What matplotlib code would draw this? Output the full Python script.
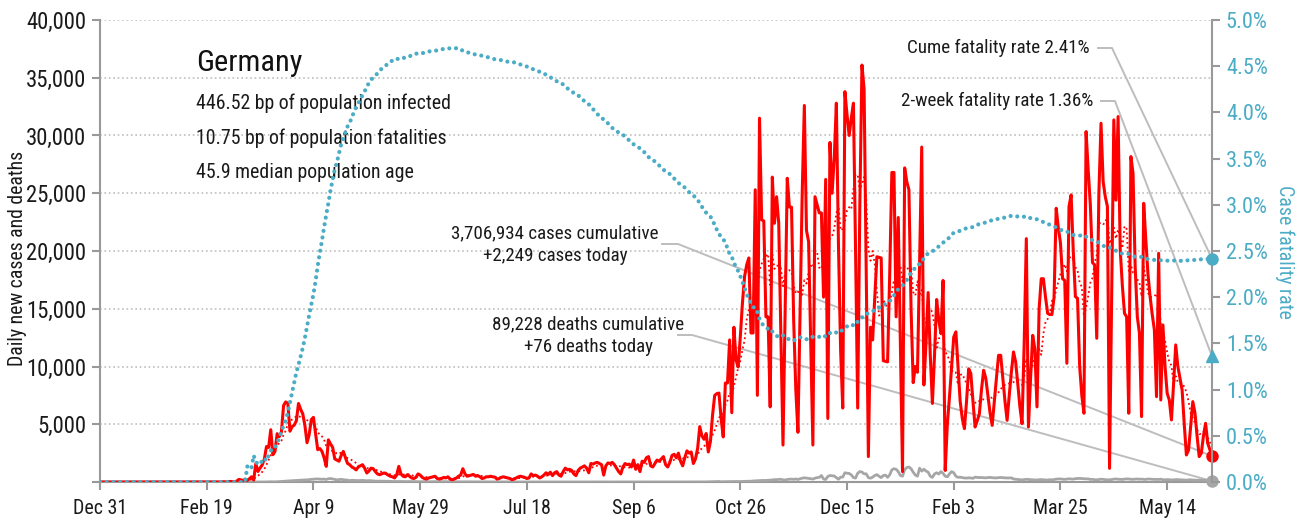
import numpy as np
import pandas as pd
import matplotlib
matplotlib.use('Agg')
import matplotlib.pyplot as plt
from matplotlib import font_manager
from matplotlib.ticker import FixedLocator, FixedFormatter

# pick a narrow face if one is installed, else Liberation Sans
installed = {f.name for f in font_manager.fontManager.ttflist}
FONT, FS = 'Liberation Sans', 1.0
for name, scale in [('Roboto Condensed', 1.12), ('Liberation Sans Narrow', 1.2)]:
    if name in installed:
        FONT, FS = name, scale
        break
plt.rcParams['font.family'] = [FONT, 'DejaVu Sans']

# daily new cases, Dec 31 2019 .. Jun 4 2021 (one block per month)
cases = [
    0,
    # Jan 2020
    0, 0, 0, 0, 0, 0, 0, 0, 0, 0, 0, 0, 0, 0, 0, 0, 0, 0, 0, 0,
    0, 0, 0, 0, 0, 0, 1, 3, 0, 0, 1,
    # Feb
    3, 0, 0, 2, 0, 2, 1, 1, 0, 3, 0, 2, 0, 0, 0, 0, 0, 0, 0, 0,
    0, 0, 0, 0, 2, 10, 19, 6, 31,
    # Mar
    51, 29, 37, 66, 220, 188, 129, 241, 136, 281, 451, 170, 1597, 910, 1210,
    1477, 1985, 3070, 2993, 4528, 2365, 2660, 4183, 3930, 4337, 6615, 6933,
    6824, 4400, 4790, 4923,
    # Apr
    5300, 6800, 6300, 5900, 4900, 3400, 4100, 5400, 5600, 4200, 2800, 2900,
    2650, 2100, 1350, 3650, 3300, 3000, 2000, 1900, 1800, 2300, 2650, 2100,
    1600, 1500, 1300, 1200, 1050, 1300,
    # May
    1400, 1500, 1200, 780, 950, 1200, 1150, 900, 700, 630, 700, 780, 720, 600,
    500, 450, 350, 600, 1350, 700, 500, 450, 630, 500, 350, 300, 400, 700, 600,
    400, 300,
    # Jun
    250, 350, 400, 450, 500, 300, 250, 300, 400, 350, 450, 250, 200, 250, 350,
    500, 600, 1150, 700, 500, 550, 600, 650, 500, 550, 450, 300, 350, 450, 450,
    # Jul
    500, 450, 420, 250, 300, 400, 450, 400, 350, 300, 200, 250, 350, 450, 500,
    450, 400, 300, 350, 700, 550, 600, 500, 350, 450, 600, 800, 650, 850, 550,
    800,
    # Aug
    900, 600, 500, 900, 1200, 1050, 1100, 1000, 700, 550, 1000, 1200, 1300,
    1400, 1200, 800, 1600, 1550, 1650, 1700, 1600, 1500, 600, 1400, 1650, 1600,
    1700, 1500, 1200, 900, 700,
    # Sep
    1300, 1600, 1500, 1550, 1300, 1900, 1100, 1500, 900, 1800, 1700, 2100,
    2200, 1400, 1300, 1600, 1900, 1800, 2000, 2200, 1500, 1300, 1700, 2300,
    2400, 2100, 2500, 1800, 1400, 2100,
    # Oct
    2700, 2500, 2600, 1600, 2000, 2900, 4800, 4000, 3700, 4200, 2600, 3500,
    5800, 7500, 7650, 7700, 5500, 3900, 8570, 8570, 12300, 6000, 13400, 10560,
    9960, 12560, 15500, 17800, 18800, 19400, 12900,
    # Nov
    12900, 25300, 7500, 31500, 22700, 22600, 14300, 14300, 6500, 26400, 22400,
    24700, 22400, 13000, 3200, 15000, 26300, 23800, 23800, 14000, 8000, 4300,
    14600, 25000, 32600, 21800, 20800, 12000, 3200, 24700,
    # Dec
    24000, 23300, 23300, 16000, 26200, 5500, 29400, 25000, 28000, 32800, 20400,
    11400, 6400, 33800, 31800, 30000, 31500, 32800, 20000, 6400, 24000, 36100,
    34000, 18000, 2200, 13400, 12300, 16000, 19500, 19450, 19400,
    # Jan 2021
    10500, 10450, 10400, 18000, 26800, 26800, 14300, 22900, 12000, 900, 27200,
    26000, 25300, 15000, 8600, 10000, 9500, 19000, 29000, 8400, 12000, 16400,
    11000, 6800, 11000, 15800, 14000, 12850, 17450, 1000, 5000,
    # Feb
    7360, 10000, 12560, 13000, 9960, 7000, 5500, 4620, 7000, 9800, 9400, 7000,
    4760, 5300, 5900, 8000, 9670, 9000, 7500, 6000, 4900, 7000, 9000, 10970,
    10970, 9000, 7000, 5340,
    # Mar
    7500, 9500, 11260, 10400, 8500, 6500, 5050, 12000, 21070, 4760, 9000,
    12700, 11500, 6500, 15000, 17600, 17600, 16000, 14600, 14500, 14500, 16000,
    23700, 22000, 20700, 17600, 17450, 10280, 23850, 24860, 20000,
    # Apr
    16050, 15900, 10000, 7500, 5950, 30340, 27000, 24000, 19000, 18800, 12440,
    25000, 31060, 26000, 24700, 23850, 1180, 16000, 31350, 24400, 31640, 20090,
    17000, 14600, 14300, 5950, 28180, 26730, 18650, 14320,
    # May
    12880, 5660, 24130, 20960, 18000, 16050, 14500, 13170, 7390, 19800, 7100,
    13600, 10000, 7680, 7100, 5370, 8500, 11870, 10000, 9000, 7970, 5000, 2340,
    2750, 4800, 6960, 6000, 4000, 2200, 2500, 4000,
    # Jun
    5080, 3350, 2800, 2249,
]

# daily new deaths, same days
deaths = [
    0,
    # Jan 2020
    0, 0, 0, 0, 0, 0, 0, 0, 0, 0, 0, 0, 0, 0, 0, 0, 0, 0, 0, 0,
    0, 0, 0, 0, 0, 0, 0, 0, 0, 0, 0,
    # Feb
    0, 0, 0, 0, 0, 0, 0, 0, 0, 0, 0, 0, 0, 0, 0, 0, 0, 0, 0, 0,
    0, 0, 0, 0, 0, 0, 0, 0, 0,
    # Mar
    0, 0, 0, 0, 0, 0, 0, 0, 2, 0, 1, 3, 2, 1, 2, 6, 7, 4, 16, 23, 17, 10, 29,
    34, 49, 61, 75, 91, 100, 112, 130,
    # Apr
    140, 150, 160, 170, 180, 185, 200, 230, 240, 260, 270, 250, 240, 250, 220,
    280, 300, 260, 230, 180, 210, 230, 200, 180, 160, 120, 150, 140, 130, 120,
    # May
    130, 140, 120, 110, 120, 110, 90, 80, 70, 80, 70, 70, 60, 70, 50, 45, 40,
    45, 40, 45, 35, 40, 30, 40, 40, 35, 30, 30, 25, 30, 30,
    # Jun
    25, 25, 20, 25, 30, 25, 20, 25, 30, 25, 20, 15, 15, 10, 15, 20, 15, 10, 15,
    15, 15, 10, 20, 15, 15, 10, 8, 6, 8, 10,
    # Jul
    6, 7, 5, 8, 9, 7, 6, 8, 7, 8, 7, 4, 2, 3, 5, 3, 2, 1, 4, 3, 3, 5, 2, 3, 4,
    2, 3, 4, 3, 2, 4,
    # Aug
    3, 2, 4, 3, 3, 2, 4, 3, 2, 3, 4, 4, 5, 3, 4, 5, 4, 3, 4, 5, 4, 3, 4, 5, 4,
    3, 4, 5, 4, 6, 5,
    # Sep
    5, 6, 4, 5, 6, 5, 4, 5, 6, 5, 6, 5, 4, 6, 5, 5, 6, 5, 6, 4, 5, 6, 5, 7, 6,
    5, 6, 7, 5, 6,
    # Oct
    7, 6, 8, 7, 6, 8, 9, 7, 8, 10, 15, 20, 25, 30, 35, 45, 20, 25, 30, 30, 35,
    40, 40, 45, 40, 35, 45, 55, 60, 70, 65,
    # Nov
    90, 100, 110, 120, 130, 140, 130, 150, 160, 180, 200, 210, 220, 230, 190,
    170, 220, 240, 250, 230, 260, 220, 280, 330, 360, 340, 310, 290, 250, 330,
    # Dec
    380, 400, 560, 260, 220, 480, 560, 540, 520, 380, 240, 420, 430, 800, 760,
    740, 620, 380, 340, 760, 900, 860, 700, 710, 380, 330, 420, 560, 640, 500,
    380,
    # Jan 2021
    560, 600, 400, 620, 1050, 1150, 1100, 900, 560, 500, 1060, 1250, 1300,
    1150, 850, 600, 500, 1200, 945, 1100, 950, 850, 500, 400, 700, 800, 690,
    900, 750, 500, 450,
    # Feb
    700, 900, 800, 500, 400, 420, 380, 350, 340, 360, 350, 320, 420, 400, 380,
    390, 370, 360, 380, 400, 370, 360, 350, 380, 390, 370, 360, 350,
    # Mar
    350, 360, 260, 240, 220, 200, 180, 210, 230, 220, 200, 190, 180, 170, 200,
    210, 190, 180, 170, 200, 180, 210, 250, 260, 270, 240, 230, 250, 280, 260,
    250,
    # Apr
    290, 300, 310, 300, 280, 270, 270, 220, 230, 200, 190, 210, 240, 230, 200,
    190, 200, 210, 250, 260, 240, 230, 220, 250, 270, 260, 240, 230, 250, 260,
    # May
    240, 250, 230, 220, 260, 250, 240, 220, 230, 220, 240, 200, 190, 210, 200,
    180, 190, 200, 210, 190, 180, 170, 160, 180, 190, 170, 160, 150, 170, 160,
    150,
    # Jun
    150, 130, 120, 76,
]

tick_days = [0, 50, 100, 150, 200, 250, 300, 350, 400, 450, 500]
tick_labels = ['Dec 31', 'Feb 19', 'Apr 9', 'May 29', 'Jul 18', 'Sep 6',
               'Oct 26', 'Dec 15', 'Feb 3', 'Mar 25', 'May 14']
left_ticks = [0, 5000, 10000, 15000, 20000, 25000, 30000, 35000, 40000]
right_ticks = [0, 0.5, 1, 1.5, 2, 2.5, 3, 3.5, 4, 4.5, 5]

country = 'Germany'
stats_lines = ['446.52 bp of population infected',
               '10.75 bp of population fatalities',
               '45.9 median population age']
cume_rate = 2.41
two_week_rate = 1.36
cases_note = '3,706,934 cases cumulative\n+2,249 cases today'
deaths_note = '89,228 deaths cumulative\n+76 deaths today'

RED = '#ff0000'
GREY = '#a6a6a6'
BLUE = '#4bacc6'
AXC = '#999999'
LEAD = '#bdbdbd'
INK = '#1a1a1a'

days = np.arange(len(cases))
avg7 = pd.Series(cases, dtype=float).rolling(7, min_periods=1).mean()
cum_c = np.cumsum(cases)
cum_d = np.cumsum(deaths)
cfr = np.where(cum_c > 0, cum_d / np.maximum(cum_c, 1) * 100, 0.0)

fig = plt.figure(figsize=(13.07, 5.23), dpi=100)
ax = fig.add_axes([100 / 1307, 41 / 523, 1112 / 1307, 462 / 523])
ax2 = ax.twinx()

ax.set_xlim(0, days[-1])
ax.set_ylim(0, 40000)
ax2.set_ylim(0, 5)

ax.set_axisbelow(True)
ax.yaxis.grid(True, ls=':', color='#bfbfbf', lw=1.2)

ax.plot(days, deaths, color=GREY, lw=2, zorder=3)
ax.plot(days, cases, color=RED, lw=2.2, zorder=4)
ax.plot(days, avg7, color=RED, lw=1.3, ls=(0, (1, 1.6)), zorder=5)
ax.plot(days[-1], cases[-1], 'o', color=RED, ms=8, clip_on=False, zorder=6)
ax.plot(days[-1], deaths[-1], 'o', color=GREY, ms=8, clip_on=False, zorder=6)

ax2.plot(days, cfr, color=BLUE, lw=3, ls=(0, (0.01, 1.6)),
         dash_capstyle='round', zorder=3)
ax2.plot(days[-1], cfr[-1], 'o', color=BLUE, ms=8, clip_on=False, zorder=6)
ax2.plot(days[-1], two_week_rate, '^', color=BLUE, ms=9, clip_on=False, zorder=6)

# axes styling
for a in (ax, ax2):
    a.spines['top'].set_visible(False)
    for s in ('left', 'right', 'bottom'):
        a.spines[s].set_color(AXC)
        a.spines[s].set_linewidth(1.5)
ax.spines['right'].set_visible(False)
ax2.spines['left'].set_visible(False)
ax2.spines['bottom'].set_visible(False)

ax.xaxis.set_major_locator(FixedLocator(tick_days))
ax.xaxis.set_major_formatter(FixedFormatter(tick_labels))
ax.yaxis.set_major_locator(FixedLocator(left_ticks))
ax.yaxis.set_major_formatter(FixedFormatter(
    [''] + [f'{v:,}' for v in left_ticks[1:]]))
ax2.yaxis.set_major_locator(FixedLocator(right_ticks))
ax2.yaxis.set_major_formatter(FixedFormatter([f'{v:.1f}%' for v in right_ticks]))

ax.tick_params(axis='y', colors=AXC, width=1.5, length=6,
               labelsize=14.6 * FS, labelcolor=INK, pad=4)
ax.tick_params(axis='x', colors=AXC, width=1.5, length=6,
               labelsize=12.8 * FS, labelcolor=INK, pad=6)
ax2.tick_params(axis='y', colors=AXC, width=1.5, length=6,
                labelsize=14.3 * FS, labelcolor=BLUE, pad=4)

fig.text(18 / 1307, 1 - 258 / 523, 'Daily new cases and deaths',
         rotation=90, ha='center', va='center', fontsize=12.7 * FS, color=INK)
fig.text(1285 / 1307, 1 - 252 / 523, 'Case fatality rate',
         rotation=270, ha='center', va='center', fontsize=12.8 * FS, color=BLUE)


def px(xp, yp):
    # pixel position of the reference image -> axes fraction
    return ((xp - 100) / 1112, (482 - yp) / 462)


# country block
ax.text(*px(196, 63), country, transform=ax.transAxes, fontsize=19.5 * FS,
        va='center', ha='left', color='#111111')
for i, line in enumerate(stats_lines):
    ax.text(*px(196, 103 + 35 * i), line, transform=ax.transAxes,
            fontsize=12.8 * FS, va='center', ha='left', color=INK)


def to_axes(a, x, y):
    disp = a.transData.transform((x, y))
    return ax.transAxes.inverted().transform(disp)


def leader(start, knee, end):
    ax.plot([start[0], knee[0], end[0]], [start[1], knee[1], end[1]],
            color=LEAD, lw=1.4, transform=ax.transAxes, clip_on=False,
            zorder=2)


fig.canvas.draw()
end_cases = to_axes(ax, days[-1], cases[-1])
end_deaths = to_axes(ax, days[-1], deaths[-1])
end_cfr = to_axes(ax2, days[-1], cfr[-1])
end_two = to_axes(ax2, days[-1], two_week_rate)

note_fs = 12.2 * FS
ax.text(*px(1090, 48), f'Cume fatality rate {cume_rate:.2f}%',
        transform=ax.transAxes, fontsize=note_fs, ha='right', va='center',
        color=INK)
leader(px(1098, 48), px(1112, 48), end_cfr)

ax.text(*px(1093, 101), f'2-week fatality rate {two_week_rate:.2f}%',
        transform=ax.transAxes, fontsize=note_fs, ha='right', va='center',
        color=INK)
leader(px(1101, 101), px(1115, 101), end_two)

ax.text(*px(555, 245), cases_note, transform=ax.transAxes, fontsize=note_fs,
        ha='center', va='center', multialignment='center', color=INK,
        linespacing=1.35)
leader(px(662, 244), px(678, 244), end_cases)

ax.text(*px(588, 336), deaths_note, transform=ax.transAxes, fontsize=note_fs,
        ha='center', va='center', multialignment='center', color=INK,
        linespacing=1.35)
leader(px(678, 335), px(692, 335), end_deaths)

fig.savefig('out.png', dpi=100)
